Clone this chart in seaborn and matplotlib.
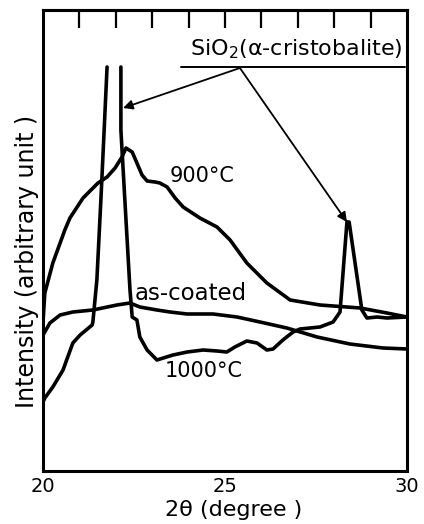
import numpy as np
import pandas as pd
import matplotlib
matplotlib.use("Agg")
import matplotlib.pyplot as plt
from matplotlib.ticker import MultipleLocator
import seaborn as sns

# ---- data ----
tt_asc = [20.00, 20.19, 20.47, 20.82, 21.37, 22.03, 22.39, 22.66, 23.13, 23.49,
          23.96, 24.67, 25.33, 25.96, 26.70, 27.53, 28.43, 29.34, 30.00]
i_asc = [13.6, 14.8, 15.6, 15.9, 16.1, 16.6, 16.8, 16.4, 16.1, 15.9,
         15.7, 15.7, 15.4, 14.9, 14.3, 13.4, 12.7, 12.3, 12.2]

tt_900 = [20.00, 20.05, 20.27, 20.60, 20.74, 21.10, 21.51, 21.76, 21.98, 22.17,
          22.28, 22.45, 22.58, 22.72, 22.86, 23.08, 23.21, 23.41, 23.63, 23.85,
          24.31, 24.78, 25.14, 25.60, 26.15, 26.79, 27.61, 28.71, 29.45, 30.00]
i_900 = [14.9, 17.8, 20.8, 24.1, 25.3, 27.3, 28.8, 29.4, 30.3, 31.4,
         32.3, 31.9, 30.8, 29.6, 29.0, 28.9, 28.8, 28.4, 27.3, 26.4,
         25.3, 24.4, 23.1, 20.8, 18.8, 17.1, 16.6, 16.3, 15.8, 15.4]

# 1000 C: peak at ~22 deg runs off scale, so the trace is in two parts
tt_1000a = [20.00, 20.05, 20.27, 20.55, 20.82, 21.02, 21.35, 21.37, 21.48, 21.59,
            21.68, 21.76]
i_1000a = [6.9, 7.3, 8.4, 10.1, 12.8, 13.6, 14.6, 14.9, 19.1, 27.1,
           34.1, 40.4]
tt_1000b = [22.14, 22.14, 22.28, 22.39, 22.45, 22.58, 22.66, 22.86, 23.13, 23.57,
            23.96, 24.40, 24.78, 25.05, 25.27, 25.60, 25.88, 26.15, 26.32, 26.59,
            26.87, 27.06, 27.61, 27.97, 28.16, 28.35, 28.41, 28.76, 28.90, 29.18,
            29.45, 30.00]
i_1000b = [40.4, 34.1, 25.1, 18.1, 15.4, 15.1, 13.4, 12.1, 11.1, 11.6,
           11.9, 12.1, 12.0, 11.9, 12.4, 13.0, 12.8, 12.1, 12.2, 13.1,
           13.9, 14.2, 14.4, 14.9, 15.9, 24.9, 24.9, 16.1, 15.3, 15.4,
           15.3, 15.4]

xticks_major = [20, 25, 30]
xtick_labels = ["20", "25", "30"]

frames = []
for name, x, y in [("as-coated", tt_asc, i_asc), ("900", tt_900, i_900),
                   ("1000a", tt_1000a, i_1000a), ("1000b", tt_1000b, i_1000b)]:
    frames.append(pd.DataFrame({"two_theta": x, "intensity": y, "trace": name}))
df = pd.concat(frames, ignore_index=True)

# ---- style ----
sns.set_theme(style="white")
plt.rcParams["font.family"] = ["DejaVu Sans"]
plt.rcParams["text.color"] = "black"
plt.rcParams["axes.labelcolor"] = "black"
plt.rcParams["xtick.color"] = "black"

fig = plt.figure(figsize=(4.24, 5.24), dpi=100)
ax = fig.add_axes([43/424, 53/524, 364/424, 461/524])

sns.lineplot(data=df, x="two_theta", y="intensity", units="trace",
             estimator=None, sort=False, color="black", linewidth=2.6, ax=ax)

ax.set_xlim(20, 30)
ax.set_ylim(0, 46.1)
ax.set_yticks([])
ax.set_xticks(xticks_major)
ax.set_xticklabels(xtick_labels, fontsize=14, color="black")
ax.xaxis.set_minor_locator(MultipleLocator(1))
ax.tick_params(axis="x", which="major", direction="in", length=21, width=2,
               pad=4, colors="black")
ax.tick_params(axis="x", which="minor", direction="in", length=12, width=1.6,
               colors="black")
for sp in ax.spines.values():
    sp.set_visible(True)
    sp.set_color("black")
    sp.set_linewidth(2.2)

top = ax.secondary_xaxis("top")
top.set_xticks(list(range(21, 30)))
top.tick_params(direction="in", length=13, width=1.6, labeltop=False, colors="black")
top.spines["top"].set_linewidth(2.2)

ax.set_xlabel("2θ (degree )", fontsize=16, labelpad=0, color="black")
ax.xaxis.set_label_coords(0.525, -0.062)
ax.set_ylabel("Intensity (arbitrary unit )", fontsize=17, color="black")
ax.yaxis.set_label_coords(-0.012, 0.455)

# ---- labels ----
ax.text(23.49, 28.9, "900°C", fontsize=15, va="baseline", ha="left")
ax.text(22.53, 17.1, "as-coated", fontsize=16.5, va="baseline", ha="left")
ax.text(23.35, 9.4, "1000°C", fontsize=15, va="baseline", ha="left")

ax.text(26.95, 41.6, "SiO$_2$(α-cristobalite)", fontsize=16, va="baseline",
        ha="center")
ax.plot([23.8, 29.95], [40.4, 40.4], color="black", lw=1.4)
for tip in [(22.2, 36.3), (28.35, 24.9)]:
    ax.annotate("", xy=tip, xytext=(25.41, 40.3),
                arrowprops=dict(arrowstyle="-|>", color="black", lw=1.3,
                                mutation_scale=14, shrinkA=0, shrinkB=0))

fig.savefig("out.png", dpi=100, facecolor="white")
